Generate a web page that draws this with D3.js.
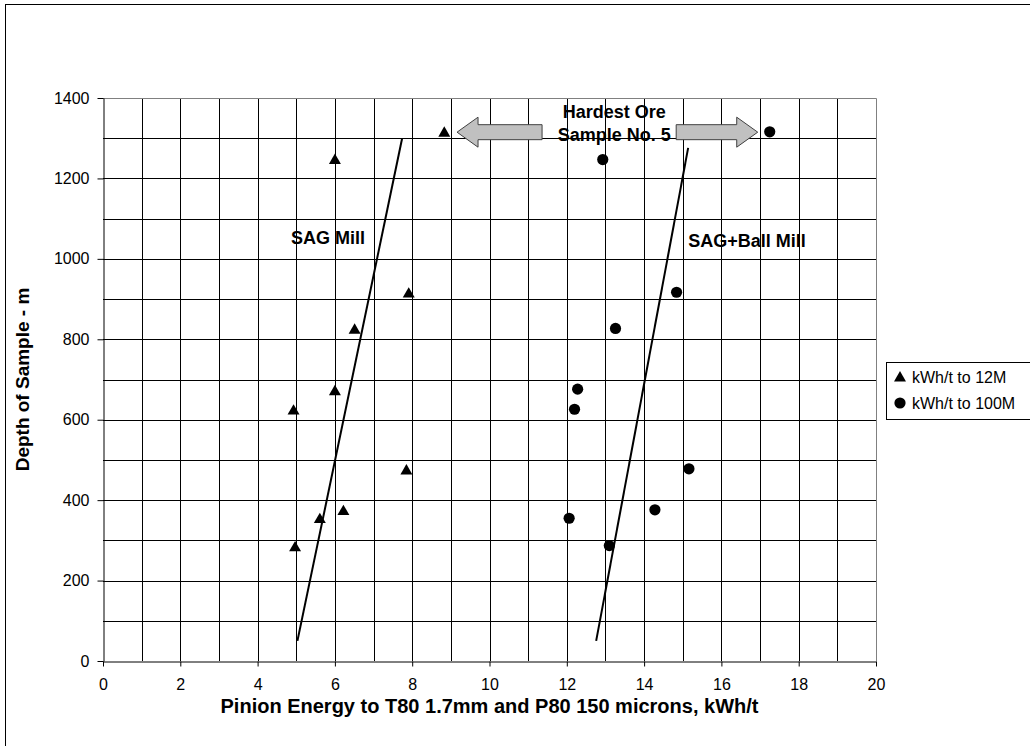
<!DOCTYPE html>
<html>
<head>
<meta charset="utf-8">
<script src="https://cdn.jsdelivr.net/npm/d3@7"></script>
<style>
	body { margin: 0; background: #fff; }
	svg { display: block; font-family: Arial, "Liberation Sans", sans-serif; }
</style>
</head>
<body>
<div id="chart"></div>
<script>
// energy (kWh/t) and depth (m) for each sample
const sagEnergy = [8.83, 6.0, 7.91, 6.51, 6.0, 4.93, 7.85, 6.22, 5.61, 4.97]
const sagDepth = [1315, 1247, 915, 825, 672, 624, 475, 374, 354, 284]
const ballEnergy = [17.25, 12.93, 14.84, 13.26, 12.28, 12.2, 15.16, 14.28, 12.06, 13.1]
const ballDepth = [1316, 1247, 917, 827, 676, 626, 478, 376, 355, 287]

// hand drawn trend lines [energy, depth]
const sagTrend = [[5.03, 50], [7.74, 1300]]
const ballTrend = [[12.76, 50], [15.14, 1276]]

const xTicks = [0, 2, 4, 6, 8, 10, 12, 14, 16, 18, 20]
const yTicks = [0, 200, 400, 600, 800, 1000, 1200, 1400]

const seriesNames = ["kWh/t to 12M", "kWh/t to 100M"]

const labelText = ["SAG Mill", "SAG+Ball Mill", "Hardest Ore", "Sample No. 5"]
const labelEnergy = [5.82, 16.66, 13.23, 13.23]
const labelDepth = [1052, 1044, 1367, 1309]

// block arrows: tail energy, tip energy, depth
const arrowTail = [11.36, 14.83]
const arrowTip = [9.16, 16.94]
const arrowDepth = [1315, 1315]

class DepthEnergyChart {
	constructor(containerId) {
		this.container = d3.select(`#${containerId}`)
		this.width = 1030
		this.height = 746
		this.plot = { left: 103, right: 876, top: 98, bottom: 661 }
	}

	createChart() {
		const p = this.plot
		const svg = this.container
			.append("svg")
			.attr("width", this.width)
			.attr("height", this.height)

		// chart frame
		svg.append("rect")
			.attr("x", 5.5)
			.attr("y", 4.5)
			.attr("width", 1100)
			.attr("height", 900)
			.attr("fill", "none")
			.attr("stroke", "#000")

		const x = d3.scaleLinear().domain([0, 20]).range([p.left, p.right])
		const y = d3.scaleLinear().domain([0, 1400]).range([p.bottom, p.top])

		// gridlines every 1 kWh/t and every 100 m
		const grid = svg.append("g").attr("class", "grid")
		grid.selectAll(".vgrid")
			.data(d3.range(1, 20))
			.join("line")
			.attr("x1", (d) => Math.round(x(d)) + 0.5)
			.attr("x2", (d) => Math.round(x(d)) + 0.5)
			.attr("y1", p.top)
			.attr("y2", p.bottom)
			.attr("stroke", "#000")
		grid.selectAll(".hgrid")
			.data(d3.range(100, 1400, 100))
			.join("line")
			.attr("x1", p.left)
			.attr("x2", p.right)
			.attr("y1", (d) => Math.round(y(d)) + 0.5)
			.attr("y2", (d) => Math.round(y(d)) + 0.5)
			.attr("stroke", "#000")

		// plot area border (top and right)
		svg.append("path")
			.attr("d", `M${p.left},${p.top + 0.5}H${p.right + 0.5}V${p.bottom}`)
			.attr("fill", "none")
			.attr("stroke", "#808080")

		// axes
		const yAxis = svg.append("g")
			.attr("transform", `translate(${p.left + 0.5},0)`)
			.call(
				d3.axisLeft(y)
					.tickValues(yTicks)
					.tickFormat(d3.format("d"))
					.tickSize(6)
					.tickPadding(8)
					.tickSizeOuter(0)
			)
		const xAxis = svg.append("g")
			.attr("transform", `translate(0,${p.bottom + 0.5})`)
			.call(
				d3.axisBottom(x)
					.tickValues(xTicks)
					.tickFormat(d3.format("d"))
					.tickSize(5)
					.tickPadding(12)
					.tickSizeOuter(0)
			)
		;[xAxis, yAxis].forEach((a) => {
			a.selectAll("path, line").attr("stroke", "#000")
			a.selectAll("text")
				.attr("fill", "#000")
				.style("font-size", "16px")
				.style("font-family", "Arial, 'Liberation Sans', sans-serif")
		})

		// trend lines
		const line = d3.line()
			.x((d) => x(d[0]))
			.y((d) => y(d[1]))
		;[sagTrend, ballTrend].forEach((t) => {
			svg.append("path")
				.datum(t)
				.attr("d", line)
				.attr("fill", "none")
				.attr("stroke", "#000")
				.attr("stroke-width", 2)
		})

		// block arrows
		arrowTail.forEach((tail, i) => {
			const x0 = x(tail)
			const x1 = x(arrowTip[i])
			const cy = y(arrowDepth[i])
			const dir = x1 > x0 ? 1 : -1
			const hx = x1 - dir * 21
			const pts = [
				[x0, cy - 7.5], [hx, cy - 7.5], [hx, cy - 15], [x1, cy],
				[hx, cy + 15], [hx, cy + 7.5], [x0, cy + 7.5],
			]
			svg.append("path")
				.attr("d", "M" + pts.join("L") + "Z")
				.attr("fill", "#c0c0c0")
				.attr("stroke", "#404040")
				.attr("stroke-width", 1)
		})

		// markers
		const tri = d3.symbol().type(d3.symbolTriangle).size(62)
		svg.append("g")
			.selectAll("path")
			.data(d3.zip(sagEnergy, sagDepth))
			.join("path")
			.attr("d", tri)
			.attr("transform", (d) => `translate(${x(d[0])},${y(d[1]) + 1})`)
			.attr("fill", "#000")
		svg.append("g")
			.selectAll("circle")
			.data(d3.zip(ballEnergy, ballDepth))
			.join("circle")
			.attr("cx", (d) => x(d[0]))
			.attr("cy", (d) => y(d[1]))
			.attr("r", 5.6)
			.attr("fill", "#000")

		// annotations
		svg.append("g")
			.selectAll("text")
			.data(d3.zip(labelText, labelEnergy, labelDepth))
			.join("text")
			.attr("x", (d) => x(d[1]))
			.attr("y", (d) => y(d[2]))
			.attr("dy", "0.35em")
			.attr("text-anchor", "middle")
			.style("font-size", "18px")
			.style("font-weight", "bold")
			.text((d) => d[0])

		// axis titles
		svg.append("text")
			.attr("x", (p.left + p.right) / 2)
			.attr("y", 706)
			.attr("dy", "0.35em")
			.attr("text-anchor", "middle")
			.style("font-size", "20px")
			.style("font-weight", "bold")
			.text("Pinion Energy to T80 1.7mm and P80 150 microns, kWh/t")
		svg.append("text")
			.attr("transform", `translate(22,${(p.top + p.bottom) / 2}) rotate(-90)`)
			.attr("dy", "0.35em")
			.attr("text-anchor", "middle")
			.style("font-size", "19px")
			.style("font-weight", "bold")
			.text("Depth of Sample - m")

		// legend
		const legend = svg.append("g").attr("transform", "translate(886,362)")
		legend.append("rect")
			.attr("x", 0.5)
			.attr("y", 0.5)
			.attr("width", 200)
			.attr("height", 57)
			.attr("fill", "#fff")
			.attr("stroke", "#000")
		seriesNames.forEach((name, i) => {
			const g = legend.append("g").attr("transform", `translate(0,${15 + i * 26})`)
			if (i === 0) {
				g.append("path").attr("d", tri).attr("transform", "translate(14,1)")
			} else {
				g.append("circle").attr("cx", 14).attr("r", 5.6)
			}
			g.append("text")
				.attr("x", 26)
				.attr("dy", "0.35em")
				.style("font-size", "16px")
				.text(name)
		})
	}
}

const chart = new DepthEnergyChart("chart")
chart.createChart()
</script>
</body>
</html>
